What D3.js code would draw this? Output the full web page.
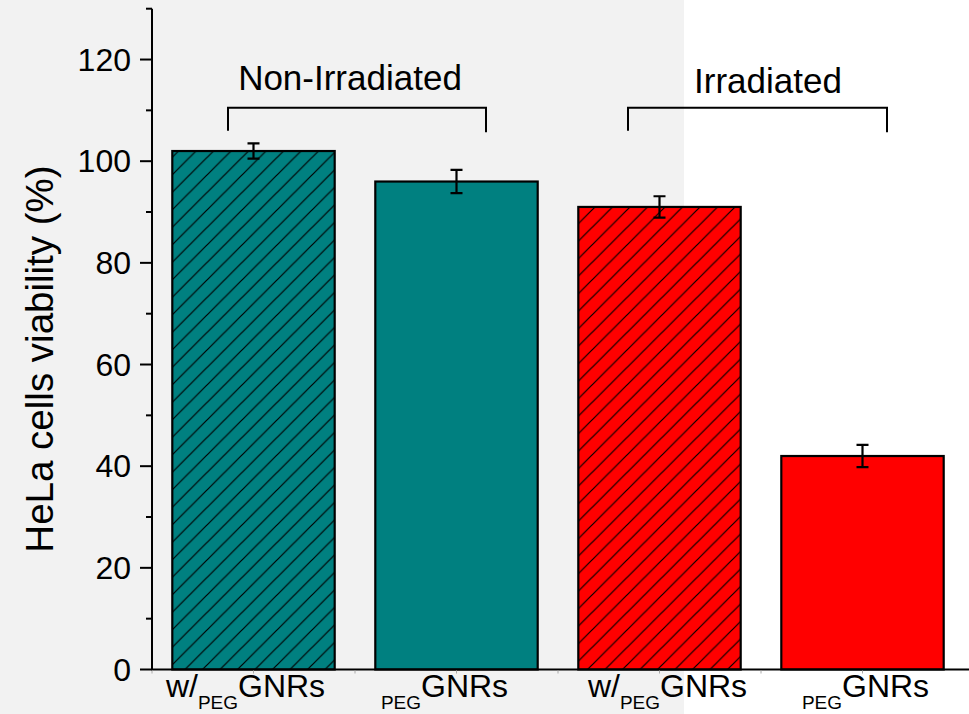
<!DOCTYPE html>
<html>
<head>
<meta charset="utf-8">
<script src="https://cdn.jsdelivr.net/npm/d3@7"></script>
<style>
  html, body { margin: 0; padding: 0; background: #fff; }
  svg { display: block; font-family: "Liberation Sans", Arial, sans-serif; }
</style>
</head>
<body>
<svg id="chart" width="969" height="714"></svg>
<script>
// data
var categories = ["w/PEG GNRs (dark)", "PEG GNRs (dark)", "w/PEG GNRs (irr)", "PEG GNRs (irr)"];
var labelPrefix = ["w/", "", "w/", ""];
var viability = [102, 96, 91, 42];
var errors = [1.5, 2.3, 2.1, 2.2];
var hatched = [true, false, true, false];
var barColors = ["#008080", "#008080", "#ff0000", "#ff0000"];
var majorTicks = [0, 20, 40, 60, 80, 100, 120];
var minorTicks = [10, 30, 50, 70, 90, 110, 130];
var groups = [
    {label: "Non-Irradiated", first: 0, last: 1},
    {label: "Irradiated", first: 2, last: 3}
];

var W = 969, H = 714;
var svg = d3.select("#chart");

var x = d3.scaleBand()
    .domain(categories)
    .range([152, 964])
    .paddingInner(0.2)
    .paddingOuter(0.1);

var y = d3.scaleLinear()
    .domain([0, 130])
    .range([669.5, 8.7]);

// background: grey panel behind the non-irradiated half
svg.append("rect").attr("x", 0).attr("y", 0).attr("width", W).attr("height", H).attr("fill", "#ffffff");
svg.append("rect").attr("x", 0).attr("y", 0).attr("width", 684).attr("height", H).attr("fill", "#f2f2f2");

// hatch pattern
var defs = svg.append("defs");
var s = 17.5;
defs.append("pattern")
    .attr("id", "hatch")
    .attr("patternUnits", "userSpaceOnUse")
    .attr("x", 172).attr("y", 0)
    .attr("width", s).attr("height", s)
    .append("path")
    .attr("d", "M0," + s + "L" + s + ",0M" + (-s / 2) + "," + (s / 2) + "L" + (s / 2) + "," + (-s / 2) + "M" + (s / 2) + "," + (s * 1.5) + "L" + (s * 1.5) + "," + (s / 2))
    .attr("stroke", "#000")
    .attr("stroke-width", 1.2)
    .attr("fill", "none");

// bars
var bars = svg.append("g").attr("class", "bars");
var barG = bars.selectAll("g.bar").data(categories).enter().append("g").attr("class", "bar");

barG.append("rect")
    .attr("x", d => x(d))
    .attr("y", (d, i) => y(viability[i]))
    .attr("width", x.bandwidth())
    .attr("height", (d, i) => y(0) - y(viability[i]))
    .attr("fill", (d, i) => barColors[i])
    .attr("stroke", "none");

barG.filter((d, i) => hatched[i]).append("rect")
    .attr("x", d => x(d))
    .attr("y", d => y(viability[categories.indexOf(d)]))
    .attr("width", x.bandwidth())
    .attr("height", d => y(0) - y(viability[categories.indexOf(d)]))
    .attr("fill", "url(#hatch)");

barG.append("rect")
    .attr("x", d => x(d))
    .attr("y", (d, i) => y(viability[i]))
    .attr("width", x.bandwidth())
    .attr("height", (d, i) => y(0) - y(viability[i]))
    .attr("fill", "none")
    .attr("stroke", "#000")
    .attr("stroke-width", 2.2);

// error bars
var capW = 6;
barG.append("path")
    .attr("d", (d, i) => {
        var cx = x(d) + x.bandwidth() / 2;
        var yt = y(viability[i] + errors[i]), yb = y(viability[i] - errors[i]);
        return "M" + (cx - capW) + "," + yt + "H" + (cx + capW) +
               "M" + cx + "," + yt + "V" + yb +
               "M" + (cx - capW) + "," + yb + "H" + (cx + capW);
    })
    .attr("stroke", "#000")
    .attr("stroke-width", 2.2)
    .attr("fill", "none");

// y axis
var axisG = svg.append("g").attr("class", "y-axis");
axisG.append("line")
    .attr("x1", 152).attr("x2", 152)
    .attr("y1", y(130)).attr("y2", y(0))
    .attr("stroke", "#000").attr("stroke-width", 2);

axisG.selectAll("line.major").data(majorTicks).enter().append("line")
    .attr("class", "major")
    .attr("x1", 140).attr("x2", 152)
    .attr("y1", d => y(d)).attr("y2", d => y(d))
    .attr("stroke", "#000").attr("stroke-width", 2);

axisG.selectAll("line.minor").data(minorTicks).enter().append("line")
    .attr("class", "minor")
    .attr("x1", 146).attr("x2", 152)
    .attr("y1", d => y(d)).attr("y2", d => y(d))
    .attr("stroke", "#000").attr("stroke-width", 2);

axisG.selectAll("text").data(majorTicks).enter().append("text")
    .attr("x", 131)
    .attr("y", d => y(d))
    .attr("dy", "0.35em")
    .attr("text-anchor", "end")
    .attr("font-size", 32)
    .attr("fill", "#000")
    .text(d => d);

svg.append("text")
    .attr("transform", "translate(53,359) rotate(-90)")
    .attr("text-anchor", "middle")
    .attr("font-size", 38.5)
    .attr("fill", "#000")
    .text("HeLa cells viability (%)");

// x axis
var xAxisG = svg.append("g").attr("class", "x-axis");
xAxisG.append("line")
    .attr("x1", 151).attr("x2", W)
    .attr("y1", y(0)).attr("y2", y(0))
    .attr("stroke", "#000").attr("stroke-width", 2);

var halfTicks = [];
categories.forEach(c => {
    halfTicks.push(x(c) - x.step() * x.paddingInner() / 2);
    halfTicks.push(x(c) + x.bandwidth() / 2);
});
xAxisG.selectAll("line.tick").data(halfTicks).enter().append("line")
    .attr("class", "tick")
    .attr("x1", d => d).attr("x2", d => d)
    .attr("y1", y(0) + 1).attr("y2", y(0) + 4)
    .attr("stroke", "#aaa").attr("stroke-width", 1);

// category labels: prefix + subscript PEG + GNRs
var labelNudge = [-8, -12, 8, 3];
var labels = xAxisG.selectAll("text.cat").data(categories).enter().append("text")
    .attr("class", "cat")
    .attr("x", (d, i) => x(d) + x.bandwidth() / 2 + labelNudge[i])
    .attr("y", 697)
    .attr("text-anchor", "middle")
    .attr("font-size", 32)
    .attr("fill", "#000");
labels.each(function (d, i) {
    var t = d3.select(this);
    if (labelPrefix[i]) t.append("tspan").text(labelPrefix[i]);
    t.append("tspan").attr("font-size", 19).attr("dy", 12).text("PEG");
    t.append("tspan").attr("dy", -12).text("GNRs");
});

// group brackets
var bracketSpan = [[228, 486], [628, 887]];
var bracketTop = y(110.5);
var bracketLeg = y(106);
var bracketG = svg.append("g").attr("class", "brackets");
groups.forEach((g, k) => {
    var x0 = bracketSpan[k][0], x1 = bracketSpan[k][1];
    bracketG.append("path")
        .attr("d", "M" + x0 + "," + bracketLeg + "V" + bracketTop + "H" + x1 + "V" + (bracketLeg + 1.5))
        .attr("stroke", "#000")
        .attr("stroke-width", 2)
        .attr("fill", "none");
    bracketG.append("text")
        .attr("x", k === 0 ? 350 : 768)
        .attr("y", k === 0 ? 90 : 93)
        .attr("text-anchor", "middle")
        .attr("font-size", 35)
        .attr("fill", "#000")
        .text(g.label);
});
</script>
</body>
</html>
